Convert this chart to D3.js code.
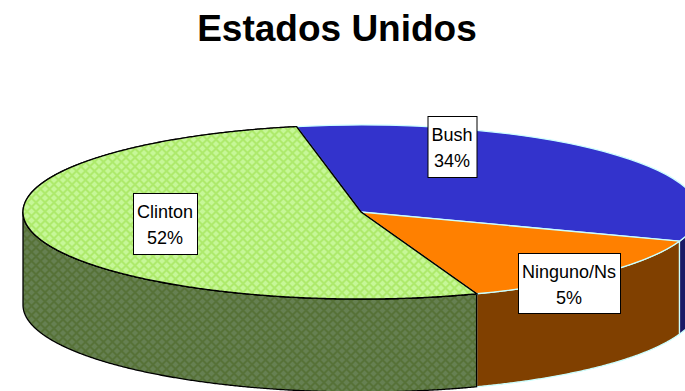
<!DOCTYPE html>
<html lang="es">
<head>
  <meta charset="utf-8" />
  <title>Estados Unidos</title>
  <script src="https://cdn.jsdelivr.net/npm/d3@7/dist/d3.min.js"></script>
  <style>
    html, body { margin: 0; padding: 0; background: #fff; overflow: hidden; }
  </style>
</head>
<body>
  <div id="chart"></div>
  <script>
    // datos
    const categories = ["Bush", "Ninguno/Ns", "Clinton"];
    const labelValues = [34, 5, 52];       // lo que dicen las etiquetas
    const sliceShares = [33.5, 14, 52.5];  // lo que ocupa cada porcion en el dibujo

    const width = 685;
    const height = 391;
    const cx = 361, cy = 212;
    const rx = 338, ry = 87;
    const depth = 93;
    const startAngle = -11 * Math.PI / 180;

    const topColors = ["#3333cc", "#ff8000", null];
    const sideColors = ["#1a1a66", "#804000", null];
    const edgeColors = ["#ccffff", "#ccffff", "#000000"];
    const labelBoxes = [
      { cx: 452, top: 116, w: 49, h: 61 },
      { cx: 569, top: 253, w: 102, h: 60 },
      { cx: 165, top: 193, w: 64, h: 61 }
    ];

    const svg = d3.select("#chart").append("svg")
      .attr("width", width)
      .attr("height", height)
      .attr("viewBox", [0, 0, width, height]);

    // tramas de Clinton
    const defs = svg.append("defs");
    function lattice(id, bg, fg) {
      const p = defs.append("pattern")
        .attr("id", id)
        .attr("width", 9).attr("height", 9)
        .attr("patternUnits", "userSpaceOnUse");
      p.append("rect").attr("width", 9).attr("height", 9).attr("fill", bg);
      p.append("path")
        .attr("d", "M0 4.5L4.5 0L9 4.5L4.5 9Z")
        .attr("fill", "none")
        .attr("stroke", fg)
        .attr("stroke-width", 2);
    }
    lattice("clintonTop", "#c6f798", "#aeea6c");
    lattice("clintonSide", "#668052", "#577238");

    const pie = d3.pie()
      .sort(null)
      .startAngle(startAngle)
      .endAngle(startAngle + 2 * Math.PI);
    const arcsData = pie(sliceShares);

    const px = a => cx + rx * Math.sin(a);
    const py = a => cy - ry * Math.cos(a);

    // pared lateral: solo la mitad delantera del disco
    const line = d3.line().x(d => d[0]).y(d => d[1]);
    function wallPath(a0, a1) {
      const from = Math.max(a0, Math.PI / 2);
      const to = Math.min(a1, 3 * Math.PI / 2);
      if (to <= from) return null;
      const angles = d3.range(from, to, 0.005).concat([to]);
      const topEdge = angles.map(a => [px(a), py(a)]);
      const bottomEdge = angles.slice().reverse().map(a => [px(a), py(a) + depth]);
      return line(topEdge.concat(bottomEdge)) + "Z";
    }

    const walls = svg.append("g");
    arcsData.forEach((d, i) => {
      const p = wallPath(d.startAngle, d.endAngle);
      if (!p) return;
      walls.append("path")
        .attr("d", p)
        .attr("fill", sideColors[i] || "url(#clintonSide)")
        .attr("stroke", edgeColors[i])
        .attr("stroke-width", 1.3);
    });

    // cara superior: d3.arc aplastado en vertical
    const arc = d3.arc().innerRadius(0).outerRadius(rx);
    const tops = svg.append("g")
      .attr("transform", `translate(${cx},${cy}) scale(1,${ry / rx})`);
    tops.selectAll("path")
      .data(arcsData)
      .join("path")
      .attr("d", arc)
      .attr("fill", (d, i) => topColors[i] || "none")
      .attr("stroke", (d, i) => edgeColors[i])
      .attr("stroke-width", 1.3)
      .attr("vector-effect", "non-scaling-stroke");

    // la trama se dibuja sin escalar, por eso Clinton va aparte
    const c = arcsData[2];
    const clintonAngles = d3.range(c.startAngle, c.endAngle, 0.005).concat([c.endAngle]);
    svg.append("path")
      .attr("d", line([[cx, cy]].concat(clintonAngles.map(a => [px(a), py(a)]))) + "Z")
      .attr("fill", "url(#clintonTop)")
      .attr("stroke", "#000")
      .attr("stroke-width", 1.3);

    // titulo
    svg.append("text")
      .attr("x", 337)
      .attr("y", 41)
      .attr("text-anchor", "middle")
      .style("font", "bold 37px 'Liberation Sans', Arial, sans-serif")
      .text("Estados Unidos");

    // etiquetas
    const labels = svg.append("g")
      .style("font", "18px 'Liberation Sans', Arial, sans-serif");
    categories.forEach((name, i) => {
      const b = labelBoxes[i];
      const g = labels.append("g");
      g.append("rect")
        .attr("x", b.cx - b.w / 2 + 0.5)
        .attr("y", b.top + 0.5)
        .attr("width", b.w)
        .attr("height", b.h)
        .attr("fill", "#fff")
        .attr("stroke", "#000");
      g.append("text")
        .attr("x", b.cx)
        .attr("y", b.top + 25)
        .attr("text-anchor", "middle")
        .text(name);
      g.append("text")
        .attr("x", b.cx)
        .attr("y", b.top + 51)
        .attr("text-anchor", "middle")
        .text(labelValues[i] + "%");
    });
  </script>
</body>
</html>
